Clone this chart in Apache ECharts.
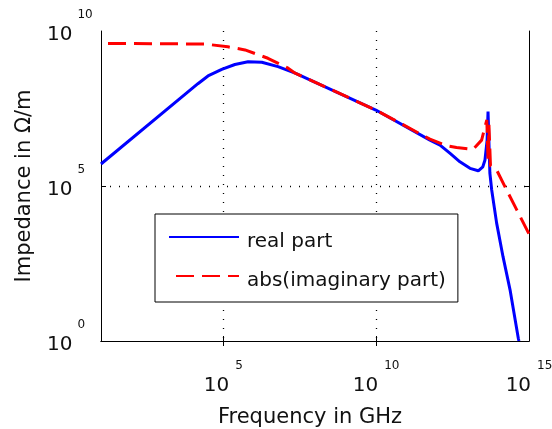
<!DOCTYPE html>
<html><head><meta charset="utf-8">
<script src="https://cdn.jsdelivr.net/npm/echarts@6/dist/echarts.min.js"></script>
<style>html,body{margin:0;padding:0;background:#fff}#c{width:552px;height:429px}</style>
</head><body><div id="c"></div>
<script>
// exponents (log10) of the values
const xTickExps = [5, 10, 15];
const yTickExps = [0, 5, 10];
const realLogF = [1.00, 4.17, 4.50, 4.95, 5.38, 5.81, 6.26, 6.79, 7.35, 9.99, 11.76, 12.09, 12.42, 12.74, 13.07, 13.34, 13.49, 13.56, 13.63, 13.66, 13.72, 13.78, 13.94, 14.15, 14.38, 14.65, 14.67];
const realLogZ = [5.71, 8.30, 8.55, 8.76, 8.92, 9.01, 8.99, 8.85, 8.64, 7.45, 6.48, 6.32, 6.05, 5.78, 5.57, 5.49, 5.62, 5.84, 6.48, 7.40, 5.42, 4.87, 3.81, 2.72, 1.65, 0.09, 0.00];
const imagLogF = [1.00, 4.40, 5.15, 5.71, 6.46, 7.12, 7.35, 9.99, 11.76, 12.31, 12.63, 13.17, 13.45, 13.62, 13.66, 13.69, 13.74, 13.94, 14.27, 14.60, 15.00];
const imagLogZ = [9.60, 9.58, 9.49, 9.39, 9.12, 8.80, 8.64, 7.45, 6.51, 6.30, 6.24, 6.18, 6.48, 7.13, 5.84, 6.97, 5.65, 5.52, 4.87, 4.23, 3.45];
const seriesNames = ['real part', 'abs(imaginary part)'];

const FONT = 'DejaVu Sans';
const TXT = '#111';
const pair = (xs, ys) => xs.map((x, i) => [x, ys[i]]);

const gridLine = { show: true, lineStyle: { color: '#000', type: [1, 8], width: 1.3 } };
const frameLine = { show: true, lineStyle: { color: '#000', width: 1 } };

const chart = echarts.init(document.getElementById('c'), null, { renderer: 'canvas' });
chart.setOption({
  animation: false,
  backgroundColor: '#fff',
  grid: { left: 101, right: 23, top: 31, bottom: 88, containLabel: false, outerBoundsMode: 'none' },
  xAxis: [{
    type: 'value', min: 1, max: 15, position: 'bottom',
    axisLine: frameLine,
    axisTick: { show: true, inside: true, length: 5, customValues: [5, 10], lineStyle: { color: '#000' } },
    splitLine: gridLine,
    axisLabel: {
      customValues: xTickExps, margin: 19,
      formatter: v => '{b|10}{s|' + v + '}',
      rich: {
        b: { fontSize: 20, fontFamily: FONT, color: TXT, lineHeight: 36, verticalAlign: 'bottom' },
        s: { fontSize: 12, fontFamily: FONT, color: TXT, lineHeight: 14, verticalAlign: 'top', padding: [0, 0, 0, 6] }
      }
    },
    name: 'Frequency in GHz', nameLocation: 'middle', nameGap: 66,
    nameTextStyle: { fontSize: 21, fontFamily: FONT, color: TXT, verticalAlign: 'top', padding: [0, 10, 0, 0] }
  }, {
    type: 'value', min: 1, max: 15, position: 'top',
    axisLine: frameLine,
    axisTick: { show: true, inside: true, length: 5, customValues: [5, 10], lineStyle: { color: '#000' } },
    splitLine: { show: false }, axisLabel: { show: false }
  }],
  yAxis: [{
    type: 'value', min: 0, max: 10, position: 'left',
    axisLine: frameLine,
    axisTick: { show: true, inside: true, length: 5, customValues: [5], lineStyle: { color: '#000' } },
    splitLine: gridLine,
    axisLabel: {
      customValues: yTickExps, margin: 54, align: 'left', padding: [0, 0, 8, 0],
      formatter: v => '{b|10}{s|' + v + '}',
      rich: {
        b: { fontSize: 20, fontFamily: FONT, color: TXT, lineHeight: 36, verticalAlign: 'bottom' },
        s: { fontSize: 12, fontFamily: FONT, color: TXT, lineHeight: 14, verticalAlign: 'top', padding: [0, 0, 0, 5] }
      }
    },
    name: 'Impedance in \u03A9/m', nameLocation: 'middle', nameGap: 66,
    nameTextStyle: { fontSize: 21, fontFamily: FONT, color: TXT }
  }, {
    type: 'value', min: 0, max: 10, position: 'right',
    axisLine: frameLine,
    axisTick: { show: true, inside: true, length: 5, customValues: [5], lineStyle: { color: '#000' } },
    splitLine: { show: false }, axisLabel: { show: false }
  }],
  legend: {
    orient: 'vertical', left: 155, top: 214,
    padding: [8, 12, 11, 13], itemGap: 9, itemWidth: 70, itemHeight: 20,
    backgroundColor: '#fff', borderColor: '#000', borderWidth: 1,
    itemStyle: { opacity: 0 },
    formatter: name => '{t|' + name + '}',
    textStyle: {
      fontSize: 20, fontFamily: FONT, color: TXT,
      rich: { t: { fontSize: 20, fontFamily: FONT, color: TXT, lineHeight: 20, padding: [10, 0, 0, 3] } }
    },
    data: seriesNames
  },
  series: [{
    name: seriesNames[0], type: 'line', xAxisIndex: 0, yAxisIndex: 0,
    data: pair(realLogF, realLogZ), showSymbol: false, symbol: 'none',
    lineStyle: { color: '#0000ff', width: 3 }, itemStyle: { color: '#0000ff' }
  }, {
    name: seriesNames[1], type: 'line', xAxisIndex: 0, yAxisIndex: 0,
    data: pair(imagLogF, imagLogZ), showSymbol: false, symbol: 'none',
    lineStyle: { color: '#ff0000', width: 3, type: [18, 8], dashOffset: 19 }, itemStyle: { color: '#ff0000' }
  }]
});
</script></body></html>
